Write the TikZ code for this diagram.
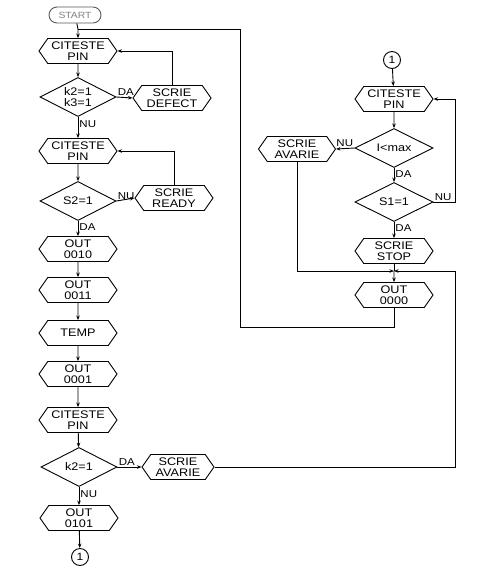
\documentclass[tikz,border=0pt]{standalone}
\usepackage{fontspec}
\setmainfont{Liberation Sans}
\newfontfamily\wfont[FakeStretch=1.15]{Liberation Sans}
\usetikzlibrary{shapes.symbols,shapes.geometric,shapes.misc,arrows.meta}
\begin{document}
\begin{tikzpicture}[x=1pt,y=-1pt,line width=0.9pt,
  hexa/.style={draw, signal, signal to=west and east, signal pointer angle=110,
    minimum width=78pt, minimum height=25pt, inner sep=0.5pt, align=center,
    font=\wfont\fontsize{11}{10.5}\selectfont},
  dec/.style={draw, diamond, aspect=1.9, minimum width=76pt, minimum height=39pt,
    inner sep=0pt, align=center, font=\wfont\fontsize{11}{11.5}\selectfont},
  term/.style={draw, rounded rectangle, minimum width=54pt, minimum height=16pt,
    inner sep=1pt, font=\wfont\fontsize{9}{9}\selectfont, text=gray, draw=gray!70!black},
  conn/.style={draw, circle, minimum size=17pt, inner sep=0pt, font=\wfont\fontsize{10.5}{10.5}\selectfont},
  lbl/.style={inner sep=1pt, font=\wfont\fontsize{10}{10}\selectfont},
  arr/.style={-{Stealth[length=4.5pt,width=3.5pt]}}]
\useasboundingbox (0,0) rectangle (483,584);
% left column
\node[term] (start) at (75,15) {START};
\node[hexa] (cit1) at (78,51) {CITESTE\\PIN};
\node[dec] (d1) at (78,97) {k2=1\\k3=1};
\node[hexa] (def) at (172,98) {SCRIE\\DEFECT};
\node[hexa] (cit2) at (78,151) {CITESTE\\PIN};
\node[dec] (d2) at (78,201) {S2=1};
\node[hexa] (rdy) at (174,198) {SCRIE\\READY};
\node[hexa] (out1) at (78,249) {OUT\\0010};
\node[hexa] (out2) at (78,290) {OUT\\0011};
\node[hexa] (temp) at (78,333) {TEMP};
\node[hexa] (out3) at (78,374) {OUT\\0001};
\node[hexa] (cit3) at (78,420) {CITESTE\\PIN};
\node[dec] (d3) at (79,467) {k2=1};
\node[hexa, minimum width=72pt] (av1) at (178,467) {SCRIE\\AVARIE};
\node[hexa] (out4) at (79,518) {OUT\\0101};
\node[conn] (c1) at (80,557) {1};
% right column
\node[conn] (c2) at (392,60) {1};
\node[hexa] (rcit) at (394,99) {CITESTE\\PIN};
\node[dec, minimum width=78pt] (d4) at (394,148) {I<max};
\node[hexa, minimum width=77pt] (av2) at (297,149) {SCRIE\\AVARIE};
\node[dec, minimum width=78pt] (d5) at (394,202) {S1=1};
\node[hexa] (stop) at (394,251) {SCRIE\\STOP};
\node[hexa] (out0) at (394,295) {OUT\\0000};
% free points
\coordinate (j) at (394,271);
\coordinate (top) at (78,29);
\coordinate (tr) at (240,29);
\coordinate (br) at (240,327);
\coordinate (ob) at (394,327);
\coordinate (rr1) at (455,202);
\coordinate (rr2) at (455,99);
\coordinate (rr3) at (455,467);
\coordinate (rr4) at (455,271);
% left connectors
\draw (start) -- (top);
\draw[arr] (top) -- (cit1);
\draw[arr] (cit1) -- (d1);
\draw[arr] (d1.east) -- (def.west);
\node[lbl, anchor=south west] at (d1.east) {DA};
\draw[arr] (def.north) |- (cit1.east);
\draw[arr] (d1.south) -- node[lbl, right, pos=0.35] {NU} (cit2.north);
\draw[arr] (cit2) -- (d2);
\draw[arr] (d2.east) -- (rdy.west);
\node[lbl, anchor=south west] at (d2.east) {NU};
\draw[arr] (rdy.north) |- (cit2.east);
\draw[arr] (d2.south) -- node[lbl, right, pos=0.4] {DA} (out1.north);
\draw[arr] (out1) -- (out2);
\draw[arr] (out2) -- (temp);
\draw[arr] (temp) -- (out3);
\draw[arr] (out3) -- (cit3);
\draw[arr] (cit3) -- (d3);
\draw[arr] (d3.east) -- (av1.west);
\node[lbl, anchor=south west] at (d3.east) {DA};
\draw[arr] (d3.south) -- node[lbl, right, pos=0.4] {NU} (out4.north);
\draw[arr] (out4) -- (c1);
% right connectors
\draw[arr] (c2) -- (rcit);
\draw[arr] (rcit) -- (d4);
\draw[arr] (d4.west) -- (av2.east);
\node[lbl, anchor=south east] at (d4.west) {NU};
\draw[arr] (d4.south) -- node[lbl, right, pos=0.4] {DA} (d5.north);
\draw (d5.east) -- (rr1) -- (rr2);
\draw[arr] (rr2) -- (rcit.east);
\node[lbl, anchor=south west] at (d5.east) {NU};
\draw[arr] (d5.south) -- node[lbl, right, pos=0.4] {DA} (stop.north);
\draw (stop) -- (j);
\draw[arr] (av2.south) |- (j);
\draw (av1.east) -- (rr3) -- (rr4);
\draw[arr] (rr4) -- (j);
\draw[arr] (j) -- (out0);
\draw (out0) -- (ob) -- (br) -- (tr) -- (top);
\end{tikzpicture}
\end{document}
